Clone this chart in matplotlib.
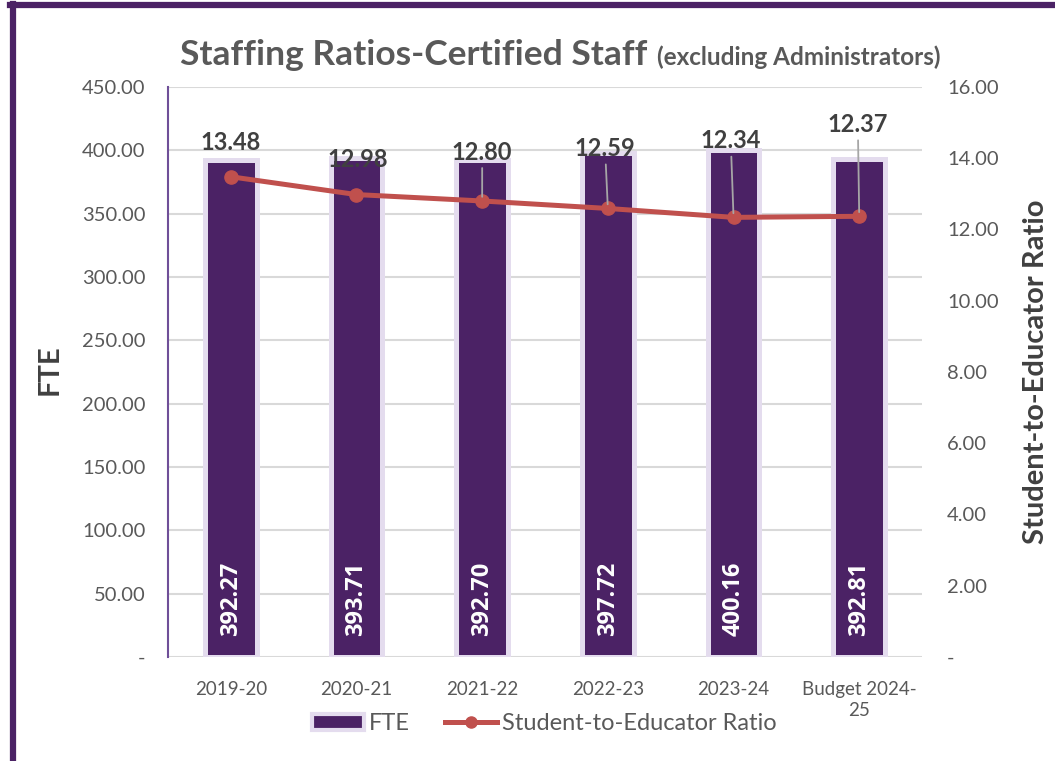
import matplotlib
matplotlib.use("Agg")
import matplotlib.pyplot as plt
from matplotlib.lines import Line2D
from matplotlib.ticker import FuncFormatter, MultipleLocator

plt.rcParams['font.family'] = ['Lato', 'DejaVu Sans']

# data
years = ["2019-20", "2020-21", "2021-22", "2022-23", "2023-24", "Budget 2024-\n25"]
fte = [392.27, 393.71, 392.70, 397.72, 400.16, 392.81]
ratio = [13.48, 12.98, 12.80, 12.59, 12.34, 12.37]

# label offsets (points) for the ratio labels, and whether a leader line is drawn
lbl_off = [(0, 25), (1, 25), (0, 35), (-2, 43), (-2, 55), (-1, 66)]
leader = [False, False, True, True, True, True]

PURPLE = "#4b2265"
LAVENDER = "#e4dcee"
RED = "#c0504d"
DARK = "#404040"
GREY = "#595959"

fig = plt.figure(figsize=(10.55, 7.61), dpi=100)
ax = fig.add_axes([0.1592, 0.1367, 0.7148, 0.7490])
ax2 = ax.twinx()

x = list(range(len(years)))
ax.bar(x, fte, width=0.41, color=PURPLE, edgecolor=LAVENDER, linewidth=3.6, zorder=2)
for xi, v in zip(x, fte):
    ax.annotate(f"{v:.2f}", xy=(xi, 0), xytext=(0, 15), textcoords="offset points",
                rotation=90, ha="center", va="bottom", color="white",
                fontsize=17, fontweight="bold", family="Open Sans", zorder=3)

ax.set_xlim(-0.5, len(years) - 0.5)
ax.set_ylim(0, 450)
ax.yaxis.set_major_locator(MultipleLocator(50))
ax.yaxis.set_major_formatter(FuncFormatter(lambda v, p: "-" if v == 0 else f"{v:.2f}"))
ax.grid(axis="y", color="#d9d9d9", linewidth=1.5, zorder=0)
ax.set_axisbelow(True)
ax.set_xticks(x)
ax.set_xticklabels(years, linespacing=1.3)
ax.tick_params(axis="both", length=0, labelcolor=GREY)
ax.tick_params(axis="y", pad=16, labelsize=14.5)
ax.tick_params(axis="x", pad=17, labelsize=13.5)
for s in ["top", "right", "bottom"]:
    ax.spines[s].set_visible(False)
ax.spines["left"].set_color("#6f4f98")
ax.spines["left"].set_linewidth(1.5)

ax2.plot(x, ratio, color=RED, linewidth=3.6, marker="o", markersize=9.5,
         label="Student-to-Educator Ratio", zorder=4)
ax2.set_ylim(0, 16)
ax2.yaxis.set_major_locator(MultipleLocator(2))
ax2.yaxis.set_major_formatter(FuncFormatter(lambda v, p: "-" if v == 0 else f"{v:.2f}"))
ax2.tick_params(axis="y", length=0, labelsize=14.5, labelcolor=GREY, pad=18)
for s in ax2.spines.values():
    s.set_visible(False)

for xi, v, off, ld in zip(x, ratio, lbl_off, leader):
    arrow = dict(arrowstyle="-", color="#a6a6a6", linewidth=1.3,
                 shrinkA=1, shrinkB=3) if ld else None
    ax2.annotate(f"{v:.2f}", xy=(xi, v), xytext=off, textcoords="offset points",
                 ha="center", va="center", fontsize=17, fontweight="bold",
                 color=DARK, arrowprops=arrow, zorder=5)

# axis titles
fig.text(50 / 1055, 1 - 370 / 761, "FTE", rotation=90, ha="center", va="center",
         fontsize=21, fontweight="bold", color=DARK)
fig.text(1036 / 1055, 1 - 372 / 761, "Student-to-Educator Ratio", rotation=90,
         ha="center", va="center", fontsize=21, fontweight="bold", color=DARK)

# legend
fte_handle = plt.Rectangle((0, 0), 1, 1, facecolor=PURPLE, edgecolor=LAVENDER, linewidth=3)
line_handle = Line2D([], [], color=RED, linewidth=3.6, marker="o", markersize=8)
leg = fig.legend([fte_handle, line_handle], ["FTE", "Student-to-Educator Ratio"],
                 loc="center", bbox_to_anchor=(0.516, 0.049), ncol=2, frameon=False,
                 fontsize=17, handlelength=2.2, handletextpad=0.2, columnspacing=1.5)
for t in leg.get_texts():
    t.set_color(GREY)

# title in two sizes
fig.canvas.draw()
r = fig.canvas.get_renderer()
t1 = fig.text(0, 1 - 65 / 761, "Staffing Ratios-Certified Staff", fontsize=25.5,
              fontweight="bold", color=GREY, va="baseline", ha="left")
t2 = fig.text(0, 1 - 65 / 761, "(excluding Administrators)", fontsize=17.5,
              fontweight="bold", color=GREY, va="baseline", ha="left")
w1 = t1.get_window_extent(r).width
w2 = t2.get_window_extent(r).width
gap = 10
W = fig.bbox.width
start = 560 - (w1 + gap + w2) / 2
t1.set_x(start / W)
t2.set_x((start + w1 + gap) / W)

# frame edges
fig.add_artist(Line2D([0.0122, 0.0122], [0, 0.995], transform=fig.transFigure,
                      color=PURPLE, linewidth=4.5))
fig.add_artist(Line2D([0.0098, 1], [0.9935, 0.9935], transform=fig.transFigure,
                      color=PURPLE, linewidth=4.5))

fig.savefig("out.png", dpi=100)
